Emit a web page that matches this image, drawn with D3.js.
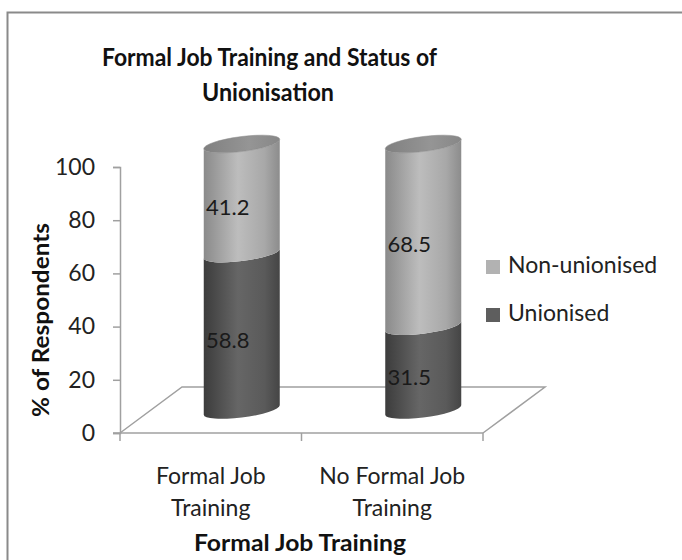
<!DOCTYPE html>
<html>
<head>
<meta charset="utf-8">
<script src="https://cdn.jsdelivr.net/npm/d3@7"></script>
<style>
  body { margin: 0; background: #fff; }
  svg { display: block; font-family: Lato, "Open Sans", sans-serif; }
</style>
</head>
<body>
<svg id="chart" width="682" height="560"></svg>
<script>
// data
var categories = [["Formal Job", "Training"], ["No Formal Job", "Training"]];
var series = ["Unionised", "Non-unionised"];
var unionised = [58.8, 31.5];
var nonUnionised = [41.2, 68.5];
var yTicks = [0, 20, 40, 60, 80, 100];

var svg = d3.select("#chart");
var W = 682, H = 560;

// chart frame
svg.append("rect").attr("x", 7.5).attr("y", 12.5).attr("width", W).attr("height", H)
  .attr("fill", "#fff").attr("stroke", "#8a8a8a").attr("stroke-width", 2);

var x0 = 120, x1 = 483, yBase = 433, yTop = 167;
var depthX = 62, depthY = -46;

var x = d3.scaleBand().domain(d3.range(categories.length)).range([x0, x1]).padding(0);
var y = d3.scaleLinear().domain([0, 100]).range([yBase, yTop]);

// gradients
var defs = svg.append("defs");
function grad(id, stops) {
  var g = defs.append("linearGradient").attr("id", id).attr("x1", 0).attr("x2", 1).attr("y1", 0).attr("y2", 0);
  stops.forEach(function(s) { g.append("stop").attr("offset", s[0]).attr("stop-color", s[1]); });
}
grad("gLight", [[0, "#8a8a8a"], [0.45, "#bdbdbd"], [0.8, "#a8a8a8"], [1, "#8c8c8c"]]);
grad("gDark", [[0, "#3c3c3c"], [0.45, "#666666"], [0.8, "#5a5a5a"], [1, "#454545"]]);
grad("gCap", [[0, "#808080"], [0.6, "#959595"], [1, "#878787"]]);

// floor
svg.append("path")
  .attr("d", "M" + x0 + "," + yBase + "L" + (x0 + depthX) + "," + (yBase + depthY) +
    "L" + (x1 + depthX) + "," + (yBase + depthY) + "L" + x1 + "," + yBase)
  .attr("fill", "none").attr("stroke", "#a0a0a0").attr("stroke-width", 1.5);

// y axis
var yAxis = svg.append("g").attr("transform", "translate(" + x0 + ",0)")
  .call(d3.axisLeft(y).tickValues(yTicks).tickSize(7).tickPadding(18));
yAxis.select(".domain").attr("stroke", "#a0a0a0").attr("stroke-width", 1.5);
yAxis.selectAll(".tick line").attr("stroke", "#a0a0a0").attr("stroke-width", 1.5);
yAxis.selectAll(".tick text").attr("font-size", 23).attr("fill", "#222").attr("font-family", "Lato");

// x axis line + ticks at band edges
svg.append("line").attr("x1", x0 - 7).attr("x2", x1).attr("y1", yBase).attr("y2", yBase)
  .attr("stroke", "#a0a0a0").attr("stroke-width", 1.5);
var edges = x.domain().map(function(d) { return x(d); }).concat([x1]);
svg.selectAll(".xtick").data(edges).enter().append("line")
  .attr("x1", function(d) { return d; }).attr("x2", function(d) { return d; })
  .attr("y1", yBase).attr("y2", yBase + 8)
  .attr("stroke", "#a0a0a0").attr("stroke-width", 1.5);

// cylinders
var rx = 38, ry = 7.5, skew = -7;
var stack = categories.map(function(c, i) {
  return [
    { s: 0, v0: 0, v1: unionised[i], val: unionised[i] },
    { s: 1, v0: unionised[i], v1: unionised[i] + nonUnionised[i], val: nonUnionised[i] }
  ];
});

function segPath(yb, yt) {
  return "M" + (-rx) + "," + yt + "L" + (-rx) + "," + yb +
    "A" + rx + "," + ry + " 0 0 0 " + rx + "," + yb +
    "L" + rx + "," + yt +
    "A" + rx + "," + ry + " 0 0 1 " + (-rx) + "," + yt + "Z";
}

var bars = svg.selectAll(".bar").data(stack).enter().append("g")
  .attr("transform", function(d, i) {
    return "translate(" + (x(i) + x.bandwidth() / 2 + depthX / 2) + "," + depthY / 2 + ") skewY(" + skew + ")";
  });

bars.selectAll("path.seg").data(function(d) { return d; }).enter().append("path")
  .attr("d", function(d) { return segPath(y(d.v0), y(d.v1)); })
  .attr("fill", function(d) { return d.s === 0 ? "url(#gDark)" : "url(#gLight)"; });

bars.append("ellipse")
  .attr("cx", 0).attr("cy", function(d) { return y(d[1].v1); })
  .attr("rx", rx).attr("ry", ry)
  .attr("fill", "url(#gCap)").attr("stroke", "#8a8a8a").attr("stroke-width", 0.5);

// data labels
stack.forEach(function(d, i) {
  d.forEach(function(s) {
    svg.append("text")
      .attr("x", x(i) + x.bandwidth() / 2 + 17)
      .attr("y", y((s.v0 + s.v1) / 2) - 12)
      .attr("text-anchor", "middle").attr("dominant-baseline", "middle")
      .attr("font-size", 22).attr("fill", "#1a1a1a")
      .text(s.val.toFixed(1));
  });
});

// category labels
categories.forEach(function(c, i) {
  var t = svg.append("text").attr("text-anchor", "middle").attr("font-size", 23).attr("fill", "#222");
  c.forEach(function(line, j) {
    t.append("tspan").attr("x", x(i) + x.bandwidth() / 2).attr("y", 484 + j * 32).text(line);
  });
});

// axis titles
svg.append("text").attr("x", 300).attr("y", 551).attr("text-anchor", "middle")
  .attr("font-size", 22).attr("font-weight", "bold").attr("fill", "#111")
  .attr("textLength", 212).attr("lengthAdjust", "spacingAndGlyphs")
  .text("Formal Job Training");
svg.append("text").attr("transform", "translate(49,320) rotate(-90)").attr("text-anchor", "middle")
  .attr("font-size", 23).attr("font-weight", "bold").attr("fill", "#111")
  .attr("textLength", 194).attr("lengthAdjust", "spacingAndGlyphs")
  .text("% of Respondents");

// title
var title = svg.append("g").attr("font-size", 25).attr("font-weight", "bold").attr("fill", "#111");
title.append("text").attr("x", 102).attr("y", 66)
  .attr("textLength", 335).attr("lengthAdjust", "spacingAndGlyphs")
  .text("Formal Job Training and Status of");
title.append("text").attr("x", 202).attr("y", 101)
  .attr("textLength", 132).attr("lengthAdjust", "spacingAndGlyphs")
  .text("Unionisation");

// legend
var legendColors = ["#5e5e5e", "#b2b2b2"];
var legendRows = [1, 0];
var lg = svg.selectAll(".legend").data(legendRows).enter().append("g")
  .attr("transform", function(d, i) { return "translate(486," + (260 + i * 48) + ")"; });
lg.append("rect").attr("width", 14).attr("height", 14)
  .attr("fill", function(d) { return legendColors[d]; });
lg.append("text").attr("x", 22).attr("y", 7).attr("dominant-baseline", "middle")
  .attr("font-size", 23).attr("fill", "#222")
  .text(function(d) { return series[d]; });
</script>
</body>
</html>
